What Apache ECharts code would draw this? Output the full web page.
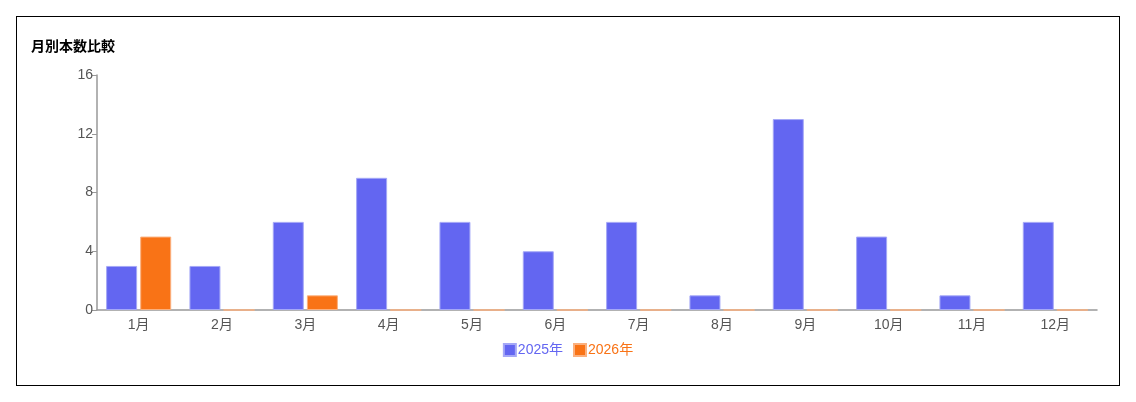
<!DOCTYPE html>
<html lang="ja">
<head>
<meta charset="UTF-8">
<title>月別本数比較</title>
<style>
  body { margin: 0; background: #fff; }
  #main { width: 1136px; height: 402px; }
  #frame { position: absolute; left: 16px; top: 16px; width: 1102px; height: 368px;
           border: 1px solid #000; pointer-events: none; }
</style>
</head>
<body>
<div id="main"></div>
<div id="frame"></div>
<script src="https://cdn.jsdelivr.net/npm/echarts@6/dist/echarts.min.js"></script>
<script>
var months = ['1月', '2月', '3月', '4月', '5月', '6月', '7月', '8月', '9月', '10月', '11月', '12月'];
var data2025 = [3, 3, 6, 9, 6, 4, 6, 1, 13, 5, 1, 6];
var data2026 = [5, 0, 1, 0, 0, 0, 0, 0, 0, 0, 0, 0];
var yTicks = [0, 4, 8, 12, 16];

var font = '"Helvetica Neue", Arial, "Noto Sans CJK JP", sans-serif';
var myChart = echarts.init(document.getElementById('main'));
var option = {
    animation: false,
    textStyle: { fontFamily: font },
    title: {
        text: '月別本数比較', left: 26, top: 35,
        textStyle: { fontSize: 14, fontWeight: 'bold', color: '#000', fontFamily: font }
    },
    legend: {
        bottom: 40, left: 'center', itemWidth: 12, itemHeight: 12, itemGap: 10,
        icon: 'rect',
        textStyle: { fontSize: 14, fontFamily: font, padding: [0, 0, 0, -3] },
        data: [
            { name: '2025年', textStyle: { color: '#6366f1' } },
            { name: '2026年', textStyle: { color: '#f97316' } }
        ]
    },
    grid: { left: 97, right: 39, top: 75, bottom: 92, containLabel: false },
    xAxis: {
        type: 'category', data: months,
        axisLine: { lineStyle: { color: '#999', width: 1.5 } },
        axisTick: { alignWithLabel: true, length: 5, lineStyle: { color: '#999' } },
        axisLabel: { color: '#555', fontSize: 14, margin: 8 }
    },
    yAxis: {
        type: 'value', min: yTicks[0], max: yTicks[yTicks.length - 1], interval: 4,
        splitLine: { show: false },
        axisLine: { show: true, lineStyle: { color: '#999', width: 1.5 } },
        axisTick: { show: true, length: 5, lineStyle: { color: '#999' } },
        axisLabel: { color: '#555', fontSize: 14, margin: 4 }
    },
    series: [
        { name: '2025年', type: 'bar', data: data2025, barWidth: 31, barGap: '10%',
          itemStyle: { color: '#6366f1', borderColor: '#a5a8f7', borderWidth: 1 } },
        { name: '2026年', type: 'bar', data: data2026, barWidth: 31,
          itemStyle: { color: '#f97316', borderColor: '#fbb07e', borderWidth: 1 } }
    ]
};
myChart.setOption(option);
</script>
</body>
</html>
